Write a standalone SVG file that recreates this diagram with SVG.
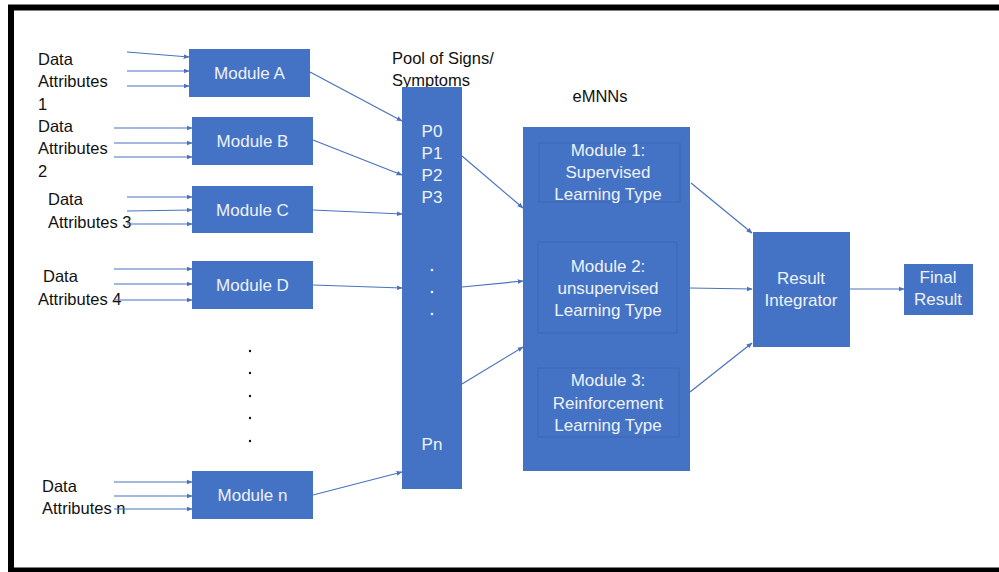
<svg xmlns="http://www.w3.org/2000/svg" width="999" height="572" viewBox="0 0 999 572">
<defs>
<marker id="ah" viewBox="0 0 10 10" refX="9" refY="5" markerWidth="6" markerHeight="6" markerUnits="userSpaceOnUse" orient="auto">
<path d="M0,1 L10,5 L0,9 z" fill="#4a72bd"/>
</marker>
<style>
.box{fill:#4472c4;}
.inner{fill:#4472c4;stroke:#3d66b0;stroke-width:1;}
.wt{font-family:"Liberation Sans",Arial,sans-serif;font-size:17px;fill:#eef2fa;text-anchor:middle;}
.bt{font-family:"Liberation Sans",Arial,sans-serif;font-size:16.5px;fill:#111;}
.ln{stroke:#4a72bd;stroke-width:1.2;fill:none;marker-end:url(#ah);}
</style>
</defs>
<rect x="0" y="0" width="999" height="572" fill="#fff"/>
<rect x="11" y="7.5" width="1000" height="563" fill="none" stroke="#000" stroke-width="6"/>

<g id="labels">
<text class="bt" x="38" y="65">Data</text>
<text class="bt" x="38" y="87">Attributes</text>
<text class="bt" x="38" y="110">1</text>
<text class="bt" x="38" y="132">Data</text>
<text class="bt" x="38" y="154">Attributes</text>
<text class="bt" x="38" y="177">2</text>
<text class="bt" x="48" y="205">Data</text>
<text class="bt" x="48" y="228">Attributes 3</text>
<text class="bt" x="43" y="282">Data</text>
<text class="bt" x="38" y="305">Attributes 4</text>
<text class="bt" x="42" y="492">Data</text>
<text class="bt" x="42" y="514">Attributes n</text>
<text class="bt" x="392" y="64">Pool of Signs/</text>
<text class="bt" x="392" y="86">Symptoms</text>
<text class="bt" x="600" y="102" text-anchor="middle">eMNNs</text>
</g>

<g id="dots" fill="#111">
<circle cx="250" cy="351" r="1.2"/>
<circle cx="250" cy="373" r="1.2"/>
<circle cx="250" cy="396" r="1.2"/>
<circle cx="250" cy="418" r="1.2"/>
<circle cx="250" cy="441" r="1.2"/>
</g>

<g id="module-a"><rect class="box" x="189" y="49" width="121" height="48"/><text class="wt" x="249.5" y="79">Module A</text></g>
<g id="module-b"><rect class="box" x="192" y="117" width="121" height="48"/><text class="wt" x="252.5" y="147">Module B</text></g>
<g id="module-c"><rect class="box" x="192" y="186" width="121" height="47"/><text class="wt" x="252.5" y="216">Module C</text></g>
<g id="module-d"><rect class="box" x="192" y="261" width="121" height="48"/><text class="wt" x="252.5" y="291">Module D</text></g>
<g id="module-n"><rect class="box" x="192" y="471" width="121" height="48"/><text class="wt" x="252.5" y="501">Module n</text></g>

<g id="pool">
<rect class="box" x="402" y="87" width="60" height="402"/>
<text class="wt" x="432" y="137">P0</text>
<text class="wt" x="432" y="159">P1</text>
<text class="wt" x="432" y="181">P2</text>
<text class="wt" x="432" y="203">P3</text>
<circle cx="432" cy="270" r="1.3" fill="#eef2fa"/>
<circle cx="432" cy="292" r="1.3" fill="#eef2fa"/>
<circle cx="432" cy="314" r="1.3" fill="#eef2fa"/>
<text class="wt" x="432" y="450">Pn</text>
</g>

<g id="emnns">
<rect class="box" x="523" y="127" width="167" height="344"/>
</g>
<g id="module-1">
<rect class="inner" x="539" y="143" width="141" height="59"/>
<text class="wt" x="608" y="156">Module 1:</text>
<text class="wt" x="608" y="178">Supervised</text>
<text class="wt" x="608" y="200">Learning Type</text>
</g>
<g id="module-2">
<rect class="inner" x="538" y="242" width="139" height="91"/>
<text class="wt" x="608" y="272">Module 2:</text>
<text class="wt" x="608" y="294">unsupervised</text>
<text class="wt" x="608" y="316">Learning Type</text>
</g>
<g id="module-3">
<rect class="inner" x="538" y="368" width="141" height="69"/>
<text class="wt" x="608" y="386">Module 3:</text>
<text class="wt" x="608" y="409">Reinforcement</text>
<text class="wt" x="608" y="431">Learning Type</text>
</g>

<g id="result-integrator">
<rect class="box" x="753" y="232" width="97" height="115"/>
<text class="wt" x="801" y="284">Result</text>
<text class="wt" x="801" y="306">Integrator</text>
</g>
<g id="final-result">
<rect class="box" x="904" y="264" width="69" height="51"/>
<text class="wt" x="938" y="283">Final</text>
<text class="wt" x="938" y="305">Result</text>
</g>

<g id="connectors">
<line class="ln" x1="127" y1="52" x2="189" y2="57"/>
<line class="ln" x1="127" y1="71" x2="189" y2="71"/>
<line class="ln" x1="127" y1="86" x2="189" y2="86"/>
<line class="ln" x1="114" y1="128" x2="192" y2="128"/>
<line class="ln" x1="114" y1="143" x2="192" y2="143"/>
<line class="ln" x1="114" y1="157" x2="192" y2="157"/>
<line class="ln" x1="127" y1="197" x2="192" y2="197"/>
<line class="ln" x1="127" y1="211" x2="192" y2="210"/>
<line class="ln" x1="127" y1="224" x2="192" y2="224"/>
<line class="ln" x1="114" y1="269" x2="192" y2="269"/>
<line class="ln" x1="114" y1="284" x2="192" y2="284"/>
<line class="ln" x1="114" y1="300" x2="192" y2="300"/>
<line class="ln" x1="114" y1="482" x2="192" y2="482"/>
<line class="ln" x1="114" y1="496" x2="192" y2="496"/>
<line class="ln" x1="114" y1="509" x2="192" y2="509"/>
<line class="ln" x1="310" y1="72" x2="402" y2="121"/>
<line class="ln" x1="313" y1="140" x2="402" y2="175"/>
<line class="ln" x1="313" y1="210" x2="402" y2="214"/>
<line class="ln" x1="313" y1="285" x2="402" y2="288"/>
<line class="ln" x1="313" y1="495" x2="402" y2="472"/>
<line class="ln" x1="462" y1="156" x2="523" y2="208"/>
<line class="ln" x1="462" y1="287" x2="523" y2="281"/>
<line class="ln" x1="462" y1="384" x2="523" y2="347"/>
<line class="ln" x1="691" y1="183" x2="752" y2="233"/>
<line class="ln" x1="690" y1="288" x2="752" y2="289"/>
<line class="ln" x1="690" y1="392" x2="752" y2="343"/>
<line class="ln" x1="850" y1="289" x2="904" y2="289"/>
</g>
</svg>
